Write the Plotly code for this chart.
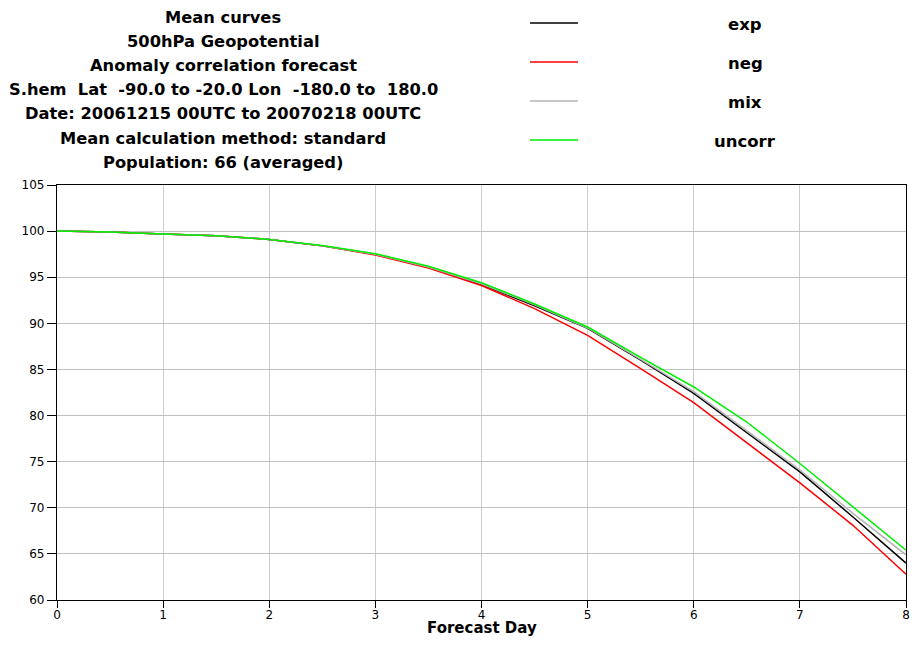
import plotly.graph_objects as go

days = [0, 0.5, 1, 1.5, 2, 2.5, 3, 3.5, 4, 4.5, 5, 5.5, 6, 6.5, 7, 7.5, 8]
exp_vals = [100, 99.9, 99.7, 99.5, 99.1, 98.4, 97.5, 96.1, 94.2, 91.9, 89.45, 86.0, 82.4, 78.2, 73.9, 69.0, 64.0]
neg_vals = [100, 99.9, 99.7, 99.5, 99.1, 98.4, 97.4, 96.0, 94.1, 91.6, 88.7, 85.1, 81.4, 77.0, 72.7, 68.1, 62.8]
mix_vals = [100, 99.9, 99.7, 99.5, 99.1, 98.4, 97.5, 96.1, 94.3, 92.0, 89.5, 86.1, 82.6, 78.4, 74.1, 69.4, 64.9]
uncorr_vals = [100, 99.9, 99.7, 99.5, 99.1, 98.45, 97.55, 96.2, 94.4, 92.1, 89.6, 86.3, 83.1, 79.3, 74.8, 70.1, 65.4]

series_names = ["exp", "neg", "mix", "uncorr"]
series_vals = [exp_vals, neg_vals, mix_vals, uncorr_vals]
series_colors = ["#000000", "#ff0000", "#b4b4b4", "#00ee00"]

title_lines = [
    "Mean curves",
    "500hPa Geopotential",
    "Anomaly correlation forecast",
    "S.hem  Lat  -90.0 to -20.0 Lon  -180.0 to  180.0",
    "Date: 20061215 00UTC to 20070218 00UTC",
    "Mean calculation method: standard",
    "Population: 66 (averaged)",
]

FONT = "DejaVu Sans, Arial, sans-serif"

# plot area in screen pixels: x 57..906, y 185..600
X0, X1 = 57.0, 906.0

def px(x):
    return (x - X0) / (X1 - X0)

def py(y):
    return (600 - y) / 415.0

fig = go.Figure()
for name, vals, col in zip(series_names, series_vals, series_colors):
    fig.add_trace(go.Scatter(x=days, y=vals, mode="lines", name=name,
                             line=dict(color=col, width=1.5), showlegend=False))

# Title block, one annotation per line
for i, t in enumerate(title_lines):
    fig.add_annotation(
        text="<b>%s</b>" % t, xref="paper", yref="paper",
        x=px(223), y=py(17.5 + 24.1 * i), xanchor="center", yanchor="middle",
        showarrow=False, borderpad=0, font=dict(family=FONT, size=16.3, color="black"))

# Legend built from shapes + annotations
leg_rows = [23, 62, 101, 140]
for name, col, yy in zip(series_names, series_colors, leg_rows):
    fig.add_shape(type="line", xref="paper", yref="paper",
                  x0=px(530), x1=px(578), y0=py(yy), y1=py(yy),
                  line=dict(color=col, width=1.5))
    fig.add_annotation(text="<b>%s</b>" % name, xref="paper", yref="paper",
                       x=px(745), y=py(yy + 1), xanchor="center", yanchor="middle",
                       showarrow=False, font=dict(family=FONT, size=16.5, color="black"))

# X-axis title as an annotation placed under the tick labels
fig.add_annotation(text="<b>Forecast Day</b>", xref="paper", yref="paper",
                   x=0.5, y=py(638), xanchor="center", yanchor="bottom",
                   showarrow=False, borderpad=0,
                   font=dict(family=FONT, size=15, color="black"))

fig.update_layout(
    width=902, height=630,
    margin=dict(l=49, r=4, t=177, b=38, pad=0),
    paper_bgcolor="white", plot_bgcolor="white",
    font=dict(family=FONT, size=12, color="black"),
)
fig.update_xaxes(range=[0, 8], dtick=1, tick0=0, showgrid=True, gridcolor="#cccccc", gridwidth=1,
                 showline=True, linecolor="black", linewidth=1.2, mirror=True,
                 ticks="outside", ticklen=7, tickcolor="black", zeroline=False,
                 ticklabeloverflow="allow", ticklabelstandoff=-4, automargin=False)
fig.update_yaxes(range=[60, 105], dtick=5, tick0=60, showgrid=True, gridcolor="#c0c0c0", gridwidth=1,
                 showline=True, linecolor="black", linewidth=1.2, mirror=True,
                 ticks="outside", ticklen=9, tickcolor="black", zeroline=False, automargin=False)

fig.write_html("out.html")
